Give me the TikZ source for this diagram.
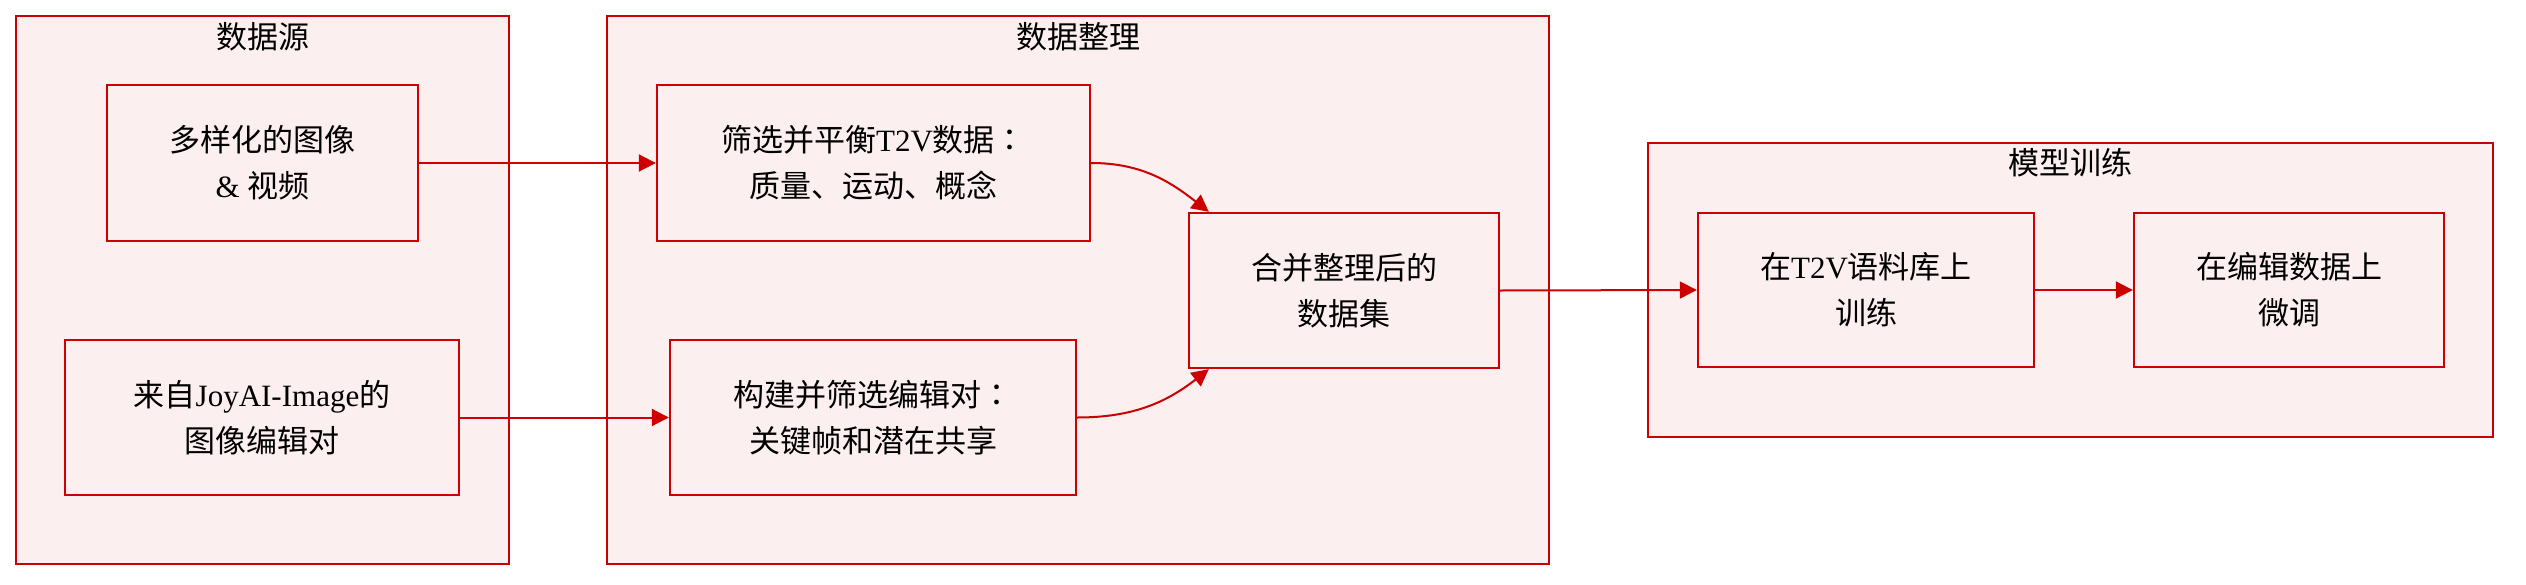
\documentclass[tikz,border=0pt]{standalone}
\usepackage{fontspec}
\setmainfont{Liberation Serif}
\newfontfamily\cjk{Noto Sans CJK SC}
\newfontfamily\cjkjp{Noto Sans CJK JP}
\usepackage{tikz}
\usetikzlibrary{arrows.meta}
\definecolor{accent}{RGB}{204,0,0}
\definecolor{pinkfill}{RGB}{252,239,239}
\tikzset{
	cluster/.style={draw=accent,fill=pinkfill,line width=1pt},
	procbox/.style={draw=accent,fill=pinkfill,line width=1.2pt,align=center,inner sep=0pt},
	flow/.style={draw=accent,line width=1pt,-{Triangle[length=8.5pt,width=8.5pt]},color=accent}
}

\begin{document}
\begin{tikzpicture}[x=0.5pt,y=-0.5pt,font=\fontsize{15.5}{23}\selectfont]
						\useasboundingbox (0,0) rectangle (2526,584);
						% the three groups
						\draw[cluster] (16,16) rectangle (509,564);
						\draw[cluster] (607,16) rectangle (1549,564);
						\draw[cluster] (1648,143) rectangle (2493,437);
						\node (srctitle) at (262.5,37) {\cjk 数据源};
						\node (preptitle) at (1078,37) {\cjk 数据整理};
						\node (traintitle) at (2070,163) {\cjk 模型训练};
						% boxes
						\node[procbox,minimum width=155.5pt,minimum height=78pt] (srcimg) at (262.5,163)
						{{\cjk 多样化的图像}\\\& {\cjk 视频}};
						\node[procbox,minimum width=197pt,minimum height=77.5pt] (srcedit) at (262,417.5)
						{{\cjk 来自}JoyAI-Image{\cjk 的}\\{\cjk 图像编辑对}};
						\node[procbox,minimum width=216.5pt,minimum height=78pt] (filtert2v) at (873.5,163)
						{{\cjk 筛选并平衡}T2V{\cjk 数据}{\cjkjp ：}\\{\cjk 质量、运动、概念}};
						\node[procbox,minimum width=203pt,minimum height=77.5pt] (buildpairs) at (873,417.5)
						{{\cjk 构建并筛选编辑对}{\cjkjp ：}\\{\cjk 关键帧和潜在共享}};
						\node[procbox,minimum width=155pt,minimum height=77.5pt] (merged) at (1344,290.5)
						{{\cjk 合并整理后的}\\{\cjk 数据集}};
						\node[procbox,minimum width=168pt,minimum height=77pt] (traint2v) at (1866,290)
						{{\cjk 在}T2V{\cjk 语料库上}\\{\cjk 训练}};
						\node[procbox,minimum width=155pt,minimum height=77pt] (finetune) at (2289,290)
						{{\cjk 在编辑数据上}\\{\cjk 微调}};
						% arrows
						\foreach \a/\b in {srcimg/filtert2v,srcedit/buildpairs,merged/traint2v,traint2v/finetune}
						\draw[flow] (\a.east) -- (\b.west);
						\draw[flow] (filtert2v.east) to[out=0,in=142] ([xshift=10.5pt]merged.north west);
						\draw[flow] (buildpairs.east) to[out=0,in=218] ([xshift=10.5pt]merged.south west);
\end{tikzpicture}
\end{document}
